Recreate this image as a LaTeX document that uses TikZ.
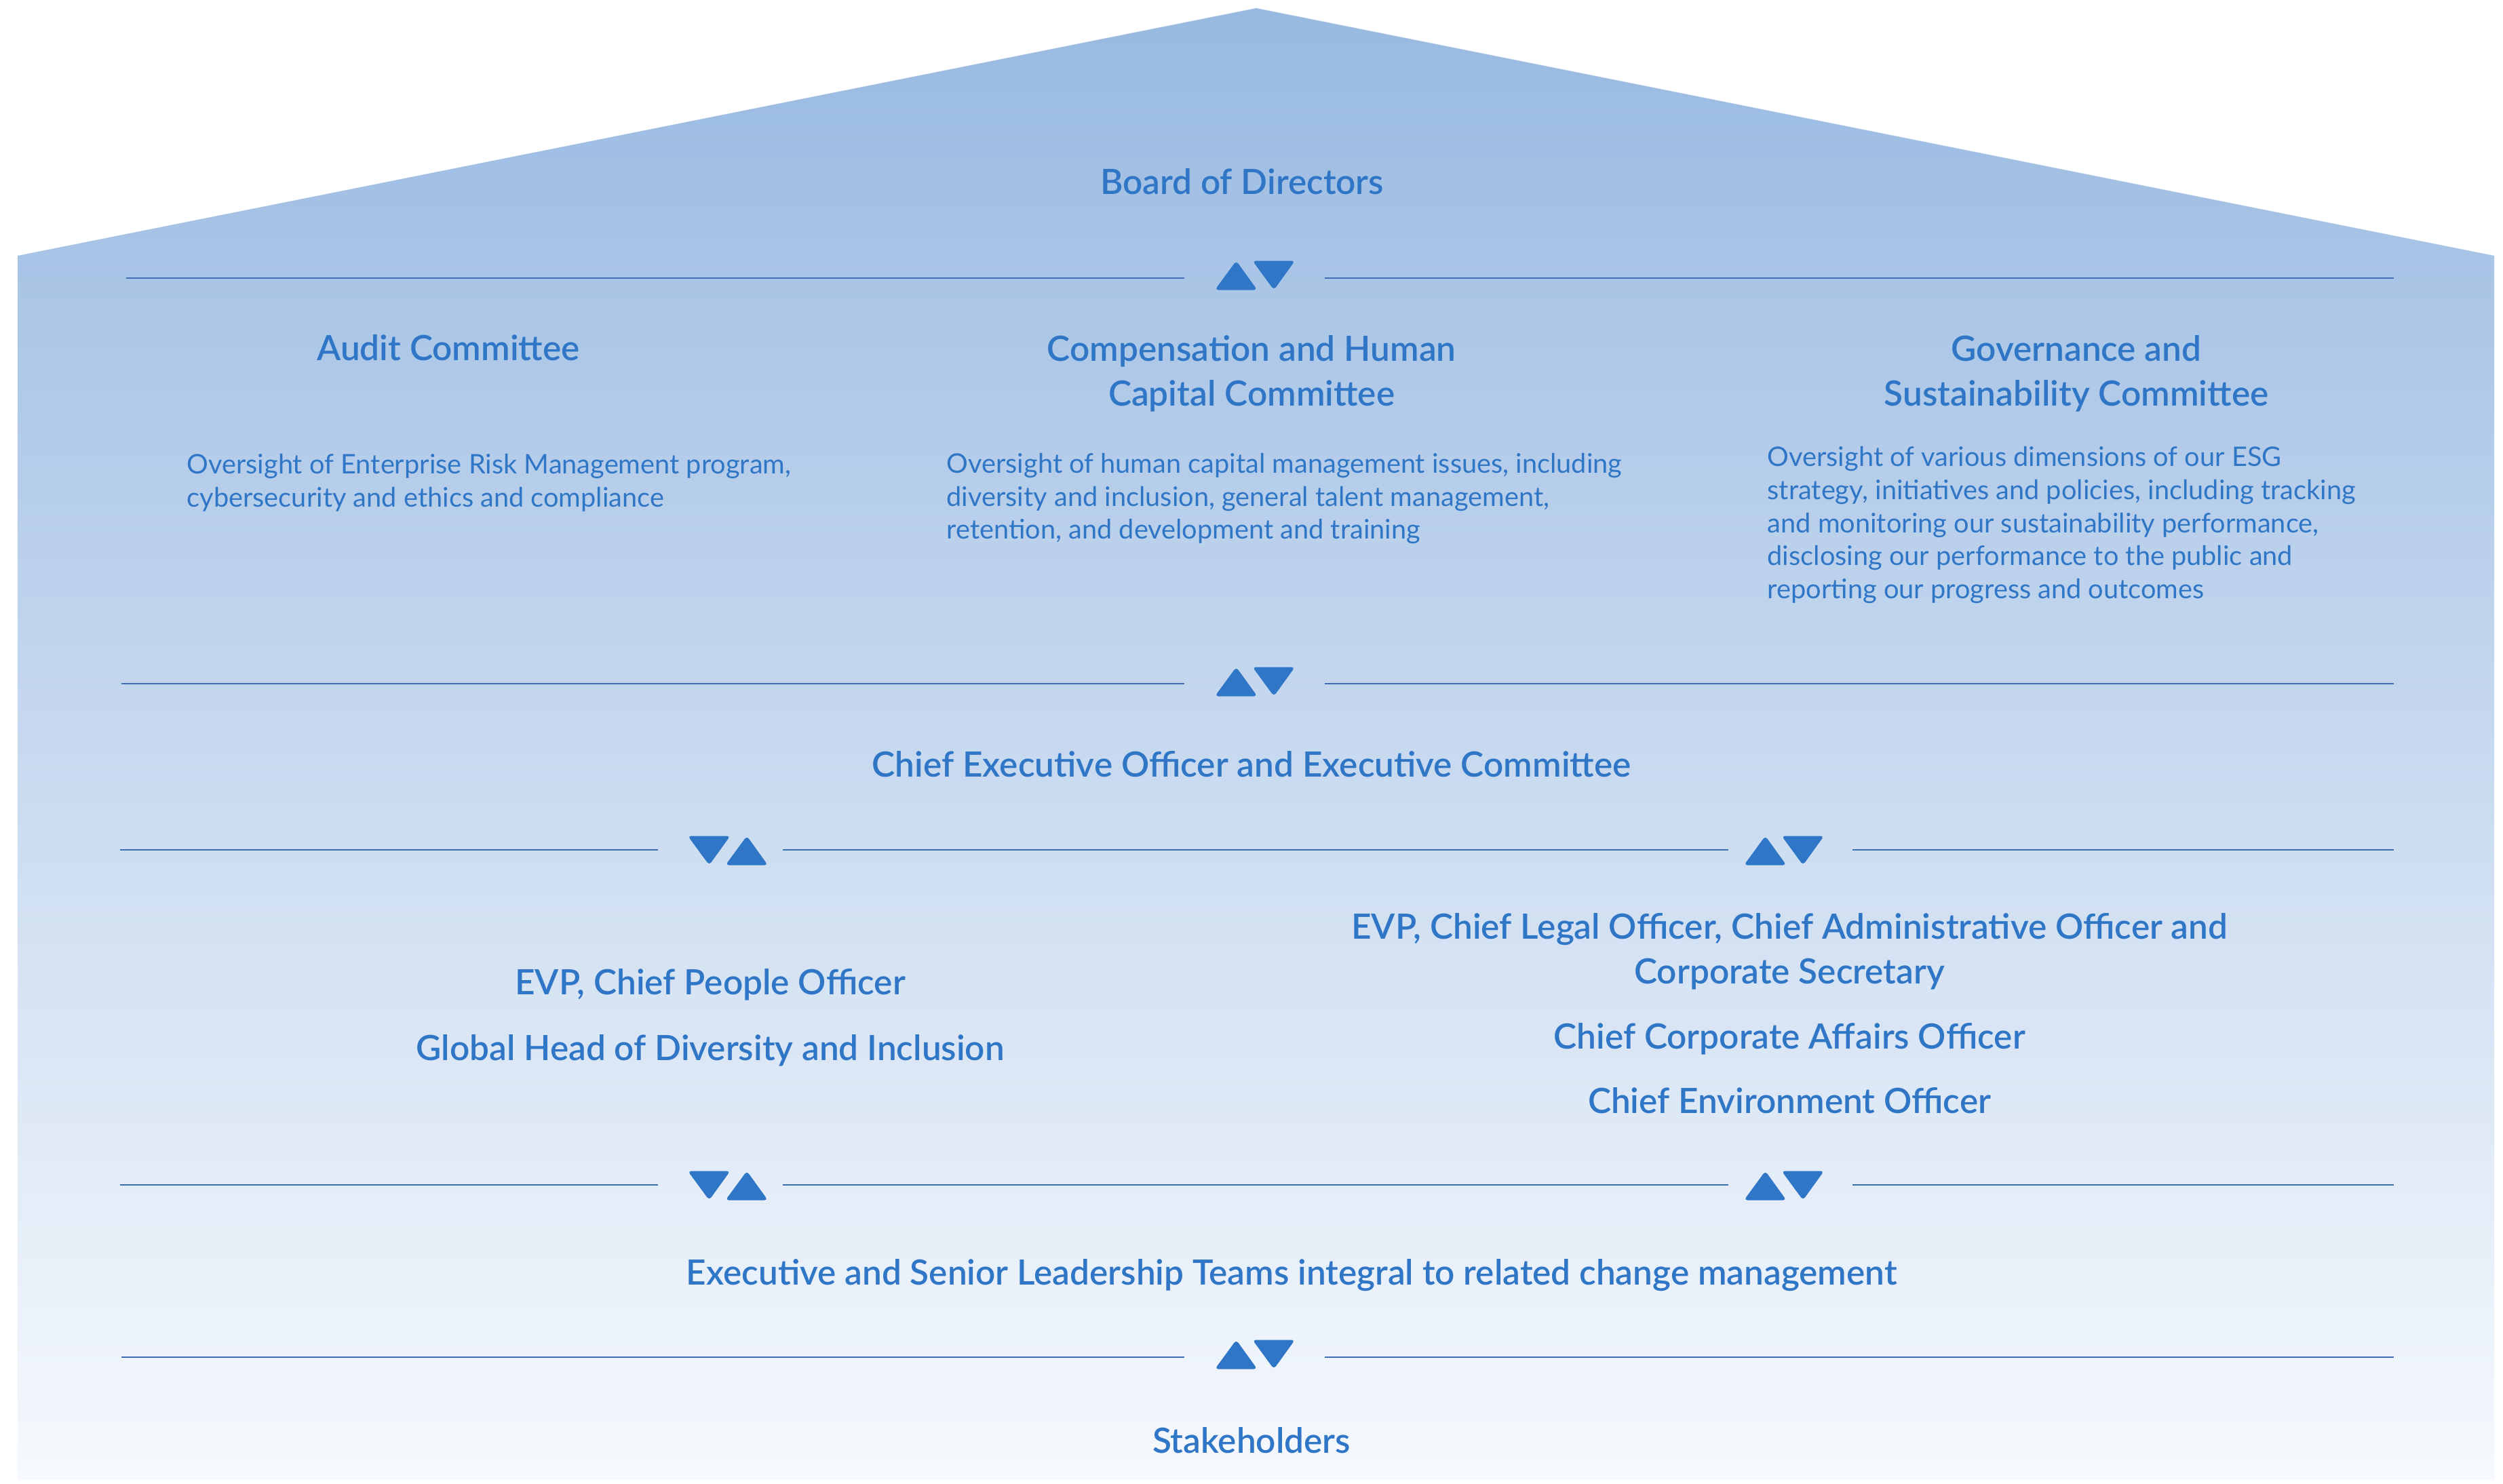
\documentclass[tikz,border=0pt]{standalone}
\usepackage{fontspec}
\setmainfont{Lato}[BoldFont={Lato Semibold}]
\usetikzlibrary{positioning}

\definecolor{esgblue}{HTML}{2F76C6}
\definecolor{esgline}{HTML}{3A6FB4}
\definecolor{rooftop}{HTML}{98B9E1}
\definecolor{floorlow}{HTML}{F6F9FD}

\tikzset{
  head/.style={text=esgblue, font=\fontsize{14.6}{18.8}\selectfont\bfseries, align=center},
  body/.style={text=esgblue, font=\fontsize{11.3}{13.9}\selectfont, align=left, anchor=west, inner xsep=0pt},
  sepline/.style={draw=esgline, line width=0.8pt},
  tri/.style={fill=esgblue, rounded corners=1.4pt},
  updown/.pic={
    \fill[tri] (-0.59,-0.215) -- (0.035,-0.215) -- (-0.275,0.215) -- cycle;
    \fill[tri] (-0.035,0.215) -- (0.59,0.215) -- (0.28,-0.215) -- cycle;
  },
  downup/.pic={
    \fill[tri] (-0.59,0.215) -- (0.035,0.215) -- (-0.275,-0.215) -- cycle;
    \fill[tri] (-0.035,-0.215) -- (0.59,-0.215) -- (0.28,0.215) -- cycle;
  }
}

\begin{document}
\begin{tikzpicture}
        \useasboundingbox (0,0) rectangle (36.90,-21.87);
        % house shape
        \shade[top color=rooftop, bottom color=floorlow] (0.26,-21.82) -- (0.26,-3.77) -- (18.52,-0.12) -- (36.77,-3.77) -- (36.77,-21.82) -- cycle;
        % separators
        \draw[sepline] (1.86,-4.10) -- (17.46,-4.10);
        \draw[sepline] (19.53,-4.10) -- (35.29,-4.10);
        \pic at (18.50,-4.06) {updown};
        \draw[sepline] (1.79,-10.08) -- (17.46,-10.08);
        \draw[sepline] (19.53,-10.08) -- (35.29,-10.08);
        \pic at (18.50,-10.05) {updown};
        \draw[sepline] (1.77,-12.53) -- (9.70,-12.53);
        \draw[sepline] (11.54,-12.53) -- (25.48,-12.53);
        \draw[sepline] (27.31,-12.53) -- (35.29,-12.53);
        \pic at (10.73,-12.54) {downup};
        \pic at (26.30,-12.54) {updown};
        \draw[sepline] (1.77,-17.47) -- (9.70,-17.47);
        \draw[sepline] (11.54,-17.47) -- (25.48,-17.47);
        \draw[sepline] (27.31,-17.47) -- (35.29,-17.47);
        \pic at (10.73,-17.48) {downup};
        \pic at (26.30,-17.48) {updown};
        \draw[sepline] (1.79,-20.01) -- (17.46,-20.01);
        \draw[sepline] (19.53,-20.01) -- (35.29,-20.01);
        \pic at (18.50,-19.97) {updown};
        % headings
        \node[head] (board) at (18.31,-2.68) {Board of Directors};
        \node[head] (audit) at (6.61,-5.13) {Audit Committee};
        \node[head] (comp) at (18.45,-5.51) {Compensation and Human\\Capital Committee};
        \node[head] (gov) at (30.61,-5.51) {Governance and\\Sustainability Committee};
        % committee notes
        \node[body] (auditnote) at (2.75,-7.12) {Oversight of Enterprise Risk Management program,\\cybersecurity and ethics and compliance};
        \node[body] (compnote) at (13.95,-7.35) {Oversight of human capital management issues, including\\diversity and inclusion, general talent management,\\retention, and development and training};
        \node[body] (govnote) at (26.05,-7.74) {Oversight of various dimensions of our ESG\\strategy, initiatives and policies, including tracking\\and monitoring our sustainability performance,\\disclosing our performance to the public and\\reporting our progress and outcomes};
        % executives
        \node[head] (ceo) at (18.45,-11.27) {Chief Executive Officer and Executive Committee};
        \node[head] (people) at (10.47,-14.52) {EVP, Chief People Officer};
        \node[head] (diversity) at (10.47,-15.49) {Global Head of Diversity and Inclusion};
        \node[head] (legal) at (26.38,-14.03) {EVP, Chief Legal Officer, Chief Administrative Officer and\\Corporate Secretary};
        \node[head] (affairs) at (26.38,-15.32) {Chief Corporate Affairs Officer};
        \node[head] (environ) at (26.38,-16.23) {Chief Environment Officer};
        \node[head] (leaders) at (19.04,-18.80) {Executive and Senior Leadership Teams integral to related change management};
        \node[head] (stake) at (18.45,-21.24) {Stakeholders};
\end{tikzpicture}
\end{document}
